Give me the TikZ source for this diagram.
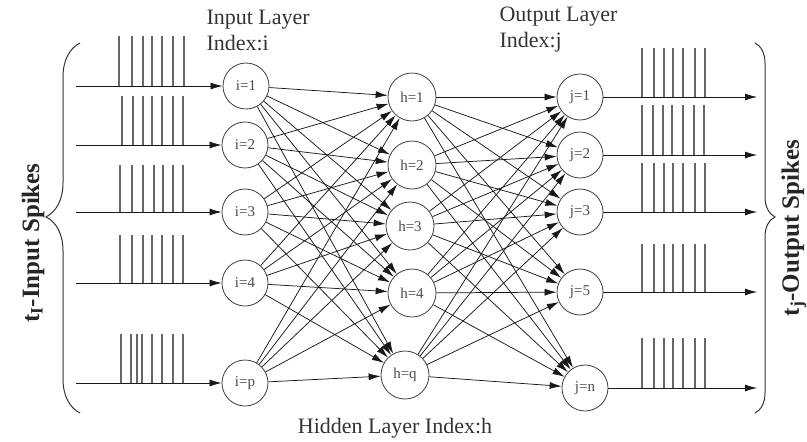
\documentclass[tikz,border=0pt]{standalone}
\usepackage{fontspec}
\setmainfont{Liberation Serif}
\usetikzlibrary{arrows.meta,decorations.pathreplacing}

\tikzset{
	neuron/.style={circle, draw=black!75, line width=0.8pt, minimum size=46pt, inner sep=0pt, text=black!70, font=\fontsize{15}{17}\selectfont},
	link/.style={draw=black!90, line width=0.75pt, -{Latex[length=12pt,width=7pt]}},
	spike/.style={draw=black!60, line width=1.3pt},
	title/.style={align=left, font=\fontsize{22}{26}\selectfont, text=black!80},
	side/.style={rotate=90, font=\bfseries\fontsize{25}{28}\selectfont, text=black!85},
}

\begin{document}
\begin{tikzpicture}[x=1pt, y=-1pt]
		\useasboundingbox (0,0) rectangle (807,442);

		% Define neurons
		\node[neuron] (i1) at (246,86) {i=1};
		\node[neuron] (i2) at (245,145) {i=2};
		\node[neuron] (i3) at (245,212) {i=3};
		\node[neuron] (i4) at (245,283) {i=4};
		\node[neuron] (i5) at (245,383) {i=p};

		\node[neuron, minimum size=48pt] (h1) at (412,97) {h=1};
		\node[neuron, minimum size=48pt] (h2) at (412,165) {h=2};
		\node[neuron, minimum size=48pt] (h3) at (410,226) {h=3};
		\node[neuron, minimum size=48pt] (h4) at (412,293) {h=4};
		\node[neuron, minimum size=48pt] (h5) at (405,375) {h=q};

		\node[neuron] (j1) at (580,97) {j=1};
		\node[neuron] (j2) at (580,155) {j=2};
		\node[neuron] (j3) at (580,212) {j=3};
		\node[neuron] (j4) at (580,292) {j=5};
		\node[neuron] (j5) at (585,388) {j=n};

		% Fully connected layers
		\foreach \s in {1,...,5}
			\foreach \t in {1,...,5} {
				\draw[link] (i\s) -- (h\t);
				\draw[link] (h\s) -- (j\t);
			}

		% Spike lines in and out
		\foreach \n/\y in {1/86, 2/145, 3/212, 4/283, 5/383} {
			\coordinate (s\n) at (76,\y);
			\draw[link] (s\n) -- (i\n);
		}
		\foreach \n/\y in {1/97, 2/155, 3/212, 4/292, 5/388} {
			\coordinate (o\n) at (757,\y);
			\draw[link] (j\n) -- (o\n);
		}

		% Input spike trains
		\foreach \x in {119,132,143,152,162,173,184} \draw[spike] (\x,86) -- ++(0,-50);
		\foreach \x in {122,133,143,152,162,173,183} \draw[spike] (\x,145) -- ++(0,-49);
		\foreach \x in {120,132,143,154,163,173,183} \draw[spike] (\x,212) -- ++(0,-47);
		\foreach \x in {120,132,143,152,162,173,183} \draw[spike] (\x,283) -- ++(0,-48);
		\foreach \x in {121,131,137,142,152,162,173,183} \draw[spike] (\x,383) -- ++(0,-49);

		% Output spike trains
		\foreach \x in {642,654,664,673,683,695,705} \draw[spike] (\x,97) -- ++(0,-49);
		\foreach \x in {642,653,663,672,683,694,704} \draw[spike] (\x,155) -- ++(0,-50);
		\foreach \x in {642,654,664,673,683,695,705} \draw[spike] (\x,212) -- ++(0,-49);
		\foreach \x in {642,654,664,673,683,695,705} \draw[spike] (\x,292) -- ++(0,-48);
		\foreach \x in {642,654,664,673,683,695,705} \draw[spike] (\x,388) -- ++(0,-50);

		% Braces and labels
		\draw[black!80, line width=1pt, decorate, decoration={brace, amplitude=34pt, aspect=0.53}] (80,413) -- (80,43);
		\draw[black!80, line width=1pt, decorate, decoration={brace, amplitude=20pt, aspect=0.47}] (755,43) -- (755,413);
		\node[side] (inlabel) at (33,243) {t\textsubscript{I}-Input Spikes};
		\node[side] (outlabel) at (794,228) {t\textsubscript{j}-Output Spikes};

		\node[title, anchor=west] (intitle) at (203,30) {Input Layer\\Index:i};
		\node[title, anchor=west] (outtitle) at (496,30) {Output Layer\\Index:j};
		\node[title] (hidtitle) at (395,428) {Hidden Layer Index:h};
	\end{tikzpicture}
\end{document}
